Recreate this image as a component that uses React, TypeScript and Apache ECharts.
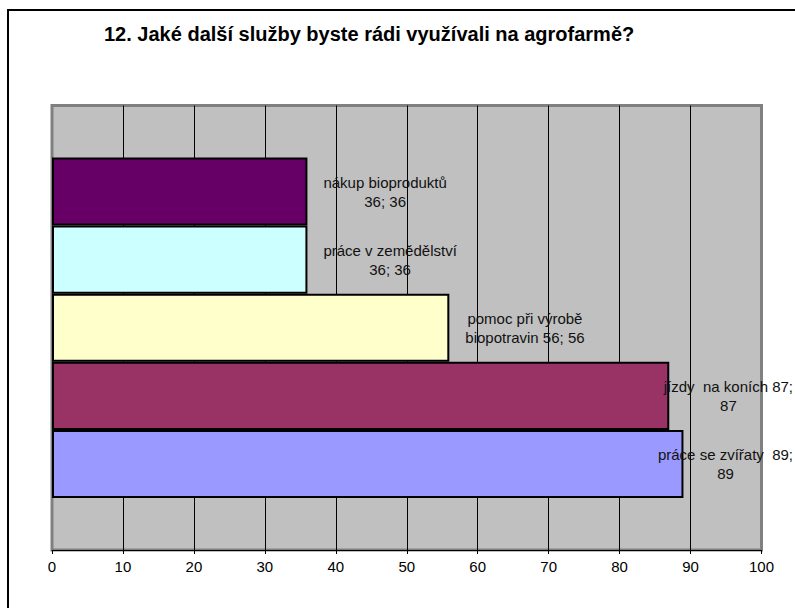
import React, { useEffect, useRef } from "react";
import * as echarts from "echarts";

const TITLE = "12. Jaké další služby byste rádi využívali na agrofarmě?";

// Answers, listed top to bottom as the bars appear
const SERVICES = [
  "nákup bioproduktů",
  "práce v zemědělství",
  "pomoc při výrobě biopotravin",
  "jízdy na koních",
  "práce se zvířaty",
];
const COUNTS = [36, 36, 56, 87, 89];
const COLORS = ["#660066", "#CCFFFF", "#FFFFCC", "#993366", "#9999FF"];
// Data label text, wrapped the way the labels show it
const LABELS = [
  "nákup bioproduktů\n36; 36",
  "práce v zemědělství\n36; 36",
  "pomoc při výrobě\nbiopotravin 56; 56",
  "jízdy  na koních 87;\n87",
  "práce se zvířaty  89;\n89",
];

const AXIS_MIN = 0;
const AXIS_MAX = 100;
const AXIS_STEP = 10;

const W = 795;
const H = 608;

export default function App() {
  const ref = useRef<HTMLDivElement>(null);

  useEffect(() => {
    if (!ref.current) return;
    const chart = echarts.init(ref.current, undefined, { renderer: "svg" });

    const series = SERVICES.map((name, i) => ({
      type: "bar",
      name,
      data: [COUNTS[i]],
      barGap: "0%",
      barCategoryGap: "23.4%",
      itemStyle: { color: COLORS[i], borderColor: "#000", borderWidth: 2 },
      label: {
        show: true,
        position: "right",
        formatter: () => LABELS[i],
        color: "#111",
        fontFamily: "Arial, 'Liberation Sans', sans-serif",
        fontSize: 15,
        lineHeight: 19,
        align: "center",
      },
      labelLayout: (p: any) => {
        const w = p.labelRect.width;
        const end = p.rect.x + p.rect.width;
        const cx = Math.min(end + 16 + w / 2, W - 2 - w / 2);
        return {
          x: cx,
          y: p.rect.y + p.rect.height / 2,
          align: "center",
          verticalAlign: "middle",
        };
      },
    }));

    chart.setOption({
      animation: false,
      backgroundColor: "#fff",
      grid: {
        left: 52,
        right: 33.5,
        top: 105.5,
        bottom: 58,
        show: true,
        backgroundColor: "#C0C0C0",
        borderColor: "#808080",
        borderWidth: 3,
      },
      xAxis: {
        type: "value",
        min: AXIS_MIN,
        max: AXIS_MAX,
        interval: AXIS_STEP,
        axisLine: { show: true, lineStyle: { color: "#000", width: 1 } },
        axisTick: { show: true, inside: false, length: 4, lineStyle: { color: "#000" } },
        axisLabel: {
          color: "#000",
          fontFamily: "Arial, 'Liberation Sans', sans-serif",
          fontSize: 15,
          margin: 9,
        },
        splitLine: {
          show: true,
          showMinLine: false,
          showMaxLine: false,
          lineStyle: { color: "#000", width: 1 },
        },
      },
      yAxis: {
        type: "category",
        data: [""],
        axisLine: { show: false },
        axisTick: { show: false },
        axisLabel: { show: false },
      },
      graphic: [
        {
          type: "rect",
          shape: { x: 8, y: 10, width: 900, height: 800 },
          style: { fill: "none", stroke: "#000", lineWidth: 2 },
          silent: true,
        },
        {
          type: "text",
          x: 104,
          y: 24,
          style: {
            text: TITLE,
            fill: "#000",
            font: "bold 20px Arial, 'Liberation Sans', sans-serif",
            textVerticalAlign: "top",
          },
        },
      ],
      series,
    });

    return () => chart.dispose();
  }, []);

  return (
    <div
      ref={ref}
      style={{ position: "fixed", left: 0, top: 0, width: W, height: H }}
    />
  );
}
